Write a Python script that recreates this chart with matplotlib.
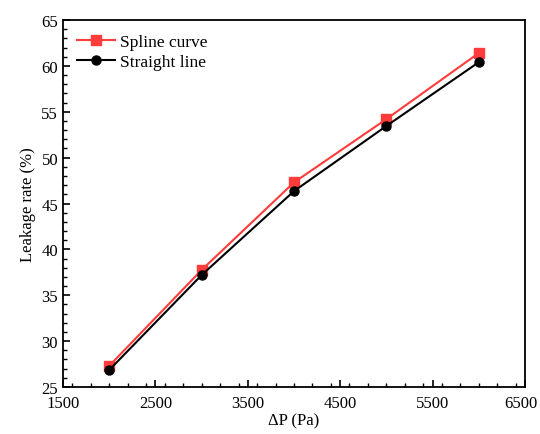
import matplotlib
matplotlib.use('Agg')
from matplotlib import pyplot as plt
from matplotlib.ticker import MultipleLocator
from matplotlib.transforms import ScaledTranslation

plt.rcParams['font.family'] = ['Liberation Serif', 'DejaVu Serif']

pressure = [2000, 3000, 4000, 5000, 6000]
spline_curve = [27.3, 37.75, 47.3, 54.2, 61.4]
straight_line = [26.85, 37.2, 46.35, 53.45, 60.4]
x_ticks = [1500, 2500, 3500, 4500, 5500, 6500]

fig = plt.figure(figsize=(5.4, 4.35), dpi=100)
ax = fig.add_axes([63 / 540, 1 - 388 / 435, 462 / 540, 367 / 435])

ax.plot(pressure, spline_curve, color='#ff3b3b', marker='s', markersize=6.5,
        linewidth=1.5, label='Spline curve')
ax.plot(pressure, straight_line, color='black', marker='o', markersize=6.5,
        linewidth=1.5, label='Straight line')

ax.set_xlim(1500, 6500)
ax.set_ylim(25, 65)
ax.set_xticks(x_ticks)
ax.xaxis.set_minor_locator(MultipleLocator(200))
ax.yaxis.set_major_locator(MultipleLocator(5))
ax.yaxis.set_minor_locator(MultipleLocator(1))
ax.tick_params(which='both', direction='in', top=False, right=False, labelsize=12)
ax.tick_params(axis='x', which='major', pad=6)
ax.tick_params(which='major', length=5, width=1.2)
ax.tick_params(which='minor', length=3, width=1)
for s in ax.spines.values():
    s.set_linewidth(1.3)

# last x label sits on the figure edge; nudge it in a little
last = ax.get_xticklabels()[-1]
last.set_transform(last.get_transform() + ScaledTranslation(-4 / 100, 0, fig.dpi_scale_trans))

ax.set_xlabel('ΔP (Pa)', fontsize=12, labelpad=1)
ax.set_ylabel('Leakage rate (%)', fontsize=12, labelpad=4)
ax.legend(loc='upper left', frameon=False, fontsize=12.5, handlelength=2.2,
          handletextpad=0.3, borderaxespad=0.4, labelspacing=0.2)

fig.savefig('out.png', dpi=100)
